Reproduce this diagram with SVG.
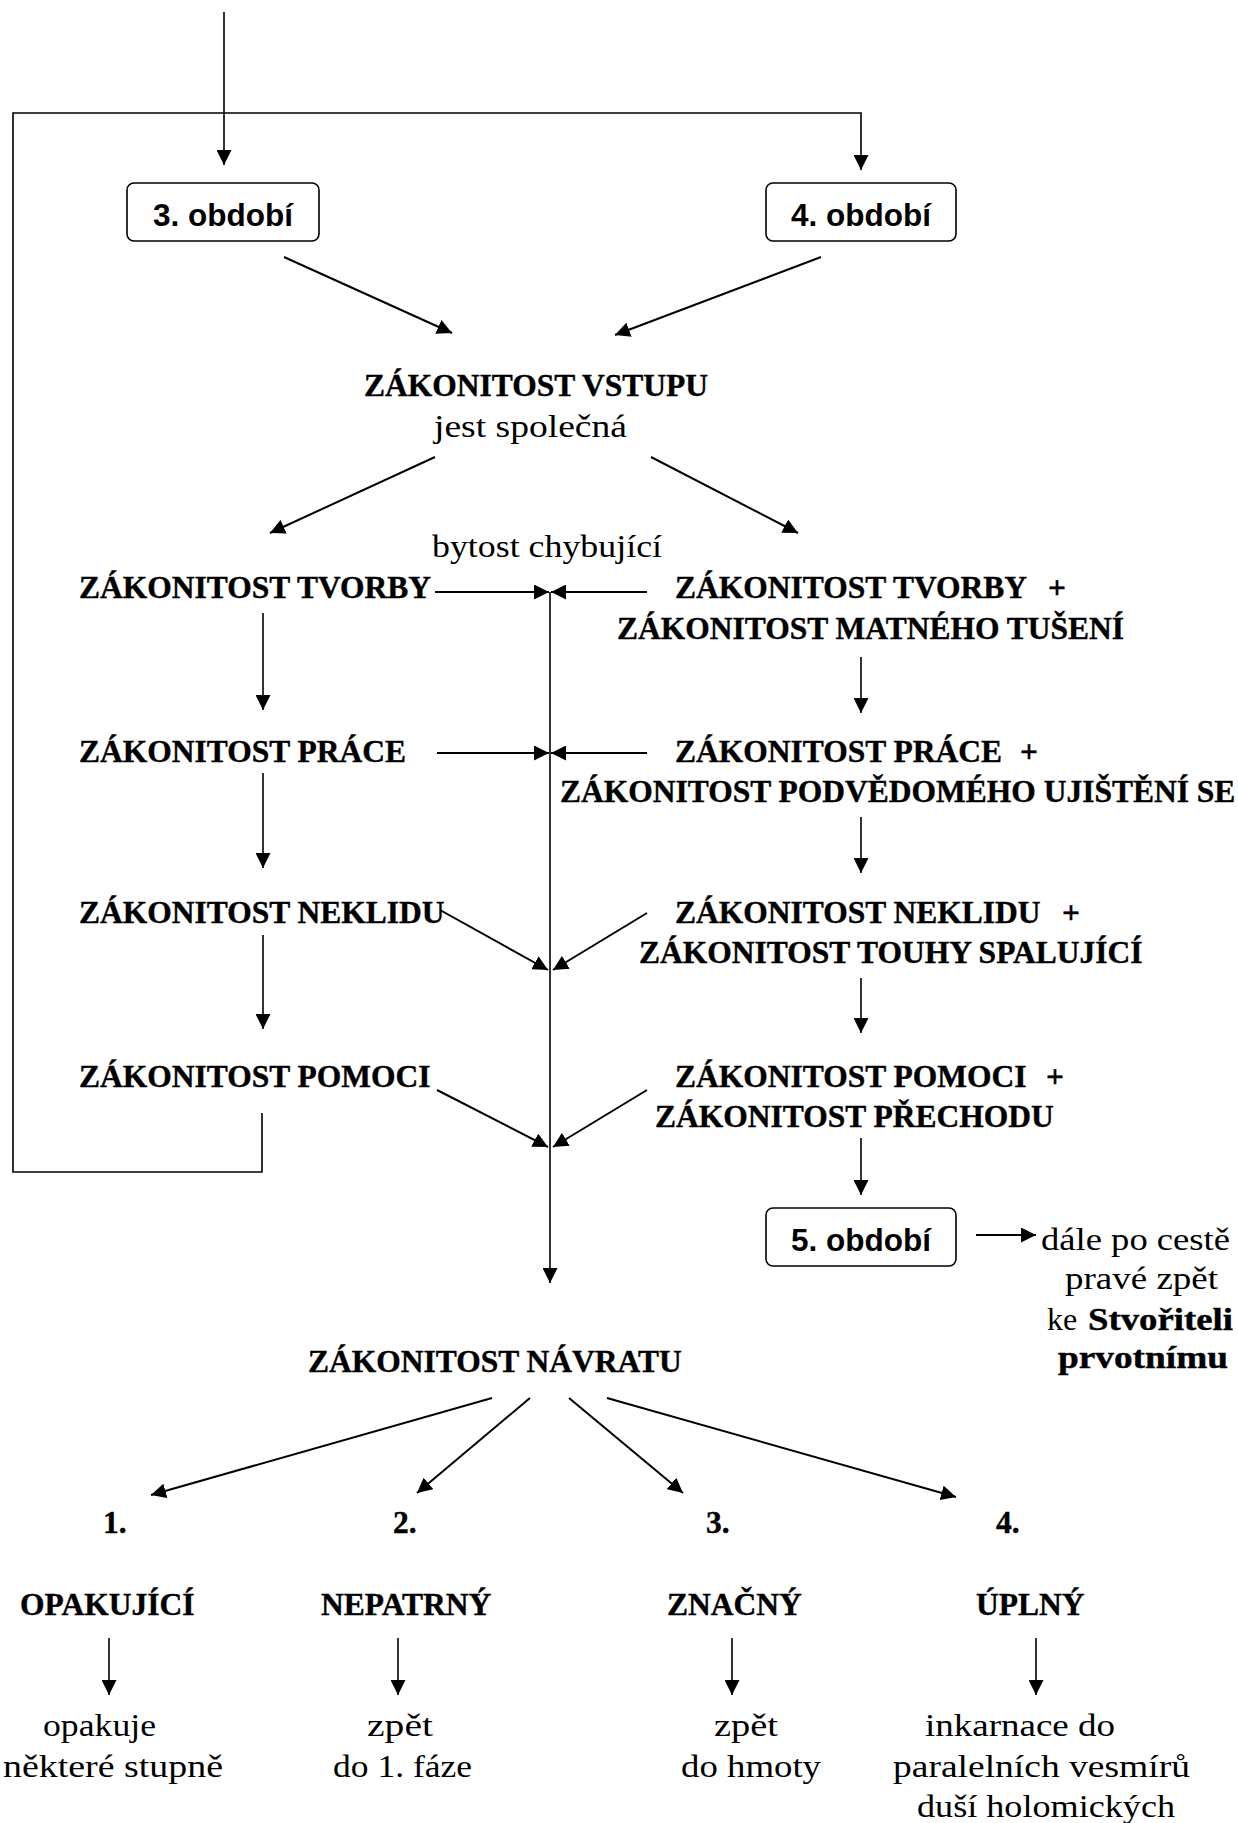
<svg xmlns="http://www.w3.org/2000/svg" width="1238" height="1823" viewBox="0 0 1238 1823">
<defs>
<marker id="ah" markerUnits="userSpaceOnUse" markerWidth="15" markerHeight="15" viewBox="0 0 15 15" refX="15" refY="7.5" orient="auto"><path d="M0,0 L15,7.5 L0,15 z" fill="#000"/></marker>
<style>
.b{font-family:"Liberation Serif","Times New Roman",serif;font-weight:bold;font-size:31.5px;fill:#000;stroke:#000;stroke-width:0.4}
.r{font-family:"Liberation Serif","Times New Roman",serif;font-size:32px;fill:#000}
.box{fill:#fff;stroke:#000;stroke-width:1.6}
.bt{font-family:"Liberation Sans",Arial,sans-serif;font-weight:bold;font-size:31.5px;text-anchor:middle;fill:#000}
.c{stroke:#000;stroke-width:1.6;fill:none}
.a{stroke:#000;stroke-width:1.6;fill:none;marker-end:url(#ah)}
.d{stroke:#000;stroke-width:2;fill:none;marker-end:url(#ah)}
</style>
</defs>
<rect width="1238" height="1823" fill="#fff"/>
<g id="connectors">
<line class="a" x1="224" y1="12" x2="224" y2="165"/>
<path class="a" d="M262,1113 V1172 H13 V113 H861 V170"/>
<line class="d" x1="284" y1="257" x2="452" y2="333"/>
<line class="d" x1="821" y1="257" x2="615" y2="335"/>
<line class="d" x1="435" y1="457" x2="270" y2="533"/>
<line class="d" x1="651" y1="457" x2="798" y2="533"/>
<line class="d" x1="435" y1="592" x2="549" y2="592"/>
<line class="d" x1="647" y1="592" x2="551" y2="592"/>
<line class="d" x1="437" y1="753" x2="549" y2="753"/>
<line class="d" x1="647" y1="753" x2="551" y2="753"/>
<line class="d" x1="440" y1="910" x2="548" y2="970"/>
<line class="d" x1="647" y1="913" x2="553" y2="970"/>
<line class="d" x1="437" y1="1090" x2="548" y2="1147"/>
<line class="d" x1="647" y1="1090" x2="553" y2="1147"/>
<line class="a" x1="550" y1="592" x2="550" y2="1283"/>
<line class="a" x1="263" y1="613" x2="263" y2="710"/>
<line class="a" x1="263" y1="773" x2="263" y2="868"/>
<line class="a" x1="263" y1="935" x2="263" y2="1029"/>
<line class="a" x1="861" y1="657" x2="861" y2="713"/>
<line class="a" x1="861" y1="817" x2="861" y2="873"/>
<line class="a" x1="861" y1="978" x2="861" y2="1033"/>
<line class="a" x1="861" y1="1138" x2="861" y2="1195"/>
<line class="d" x1="976" y1="1235" x2="1036" y2="1235"/>
<line class="d" x1="492" y1="1398" x2="151" y2="1495"/>
<line class="d" x1="530" y1="1398" x2="417" y2="1493"/>
<line class="d" x1="569" y1="1398" x2="683" y2="1493"/>
<line class="d" x1="607" y1="1398" x2="956" y2="1497"/>
<line class="a" x1="109" y1="1638" x2="109" y2="1695"/>
<line class="a" x1="398" y1="1638" x2="398" y2="1695"/>
<line class="a" x1="732" y1="1638" x2="732" y2="1695"/>
<line class="a" x1="1036" y1="1638" x2="1036" y2="1695"/>
</g>
<g id="obdobi3"><rect class="box" x="127" y="183" width="192" height="58" rx="7"/><text class="bt" x="223" y="226">3. období</text></g>
<g id="obdobi4"><rect class="box" x="766" y="183" width="190" height="58" rx="7"/><text class="bt" x="861" y="226">4. období</text></g>
<g id="vstup"><text class="b" x="364" y="396">ZÁKONITOST VSTUPU</text><text class="r" x="434" y="437" textLength="193" lengthAdjust="spacingAndGlyphs">jest společná</text></g>
<g id="bytost"><text class="r" x="432" y="557" textLength="230" lengthAdjust="spacingAndGlyphs">bytost chybující</text></g>
<g id="tvorba-l"><text class="b" x="79" y="598">ZÁKONITOST TVORBY</text></g>
<g id="prace-l"><text class="b" x="79" y="762">ZÁKONITOST PRÁCE</text></g>
<g id="neklid-l"><text class="b" x="79" y="923">ZÁKONITOST NEKLIDU</text></g>
<g id="pomoc-l"><text class="b" x="79" y="1087">ZÁKONITOST POMOCI</text></g>
<g id="tvorba-r"><text class="b" y="598"><tspan x="675">ZÁKONITOST TVORBY</tspan><tspan x="1040"> +</tspan></text><text class="b" x="617" y="639">ZÁKONITOST MATNÉHO TUŠENÍ</text></g>
<g id="prace-r"><text class="b" y="762"><tspan x="675">ZÁKONITOST PRÁCE</tspan><tspan x="1012"> +</tspan></text><text class="b" x="560" y="802">ZÁKONITOST PODVĚDOMÉHO UJIŠTĚNÍ SE</text></g>
<g id="neklid-r"><text class="b" y="923"><tspan x="675">ZÁKONITOST NEKLIDU</tspan><tspan x="1054"> +</tspan></text><text class="b" x="639" y="963">ZÁKONITOST TOUHY SPALUJÍCÍ</text></g>
<g id="pomoc-r"><text class="b" y="1087"><tspan x="675">ZÁKONITOST POMOCI</tspan><tspan x="1038"> +</tspan></text><text class="b" x="655" y="1127">ZÁKONITOST PŘECHODU</text></g>
<g id="obdobi5"><rect class="box" x="766" y="1208" width="190" height="58" rx="7"/><text class="bt" x="861" y="1251">5. období</text></g>
<g id="dale"><text class="r" x="1041" y="1250" textLength="189" lengthAdjust="spacingAndGlyphs">dále po cestě</text><text class="r" x="1065" y="1289" textLength="153" lengthAdjust="spacingAndGlyphs">pravé zpět</text><text class="r" y="1330"><tspan x="1047">ke </tspan><tspan x="1088" font-weight="bold" font-size="31.5" stroke="#000" stroke-width="0.4" textLength="145" lengthAdjust="spacingAndGlyphs">Stvořiteli</tspan></text><text class="b" x="1058" y="1368" textLength="170" lengthAdjust="spacingAndGlyphs">prvotnímu</text></g>
<g id="navrat"><text class="b" x="308" y="1372">ZÁKONITOST NÁVRATU</text></g>
<g id="n1"><text class="b" x="103" y="1533">1.</text><text class="b" x="20" y="1615">OPAKUJÍCÍ</text><text class="r" x="43" y="1736" textLength="113" lengthAdjust="spacingAndGlyphs">opakuje</text><text class="r" x="3" y="1777" textLength="220" lengthAdjust="spacingAndGlyphs">některé stupně</text></g>
<g id="n2"><text class="b" x="393" y="1533">2.</text><text class="b" x="321" y="1615">NEPATRNÝ</text><text class="r" x="367" y="1736" textLength="66" lengthAdjust="spacingAndGlyphs">zpět</text><text class="r" x="333" y="1777" textLength="139" lengthAdjust="spacingAndGlyphs">do 1. fáze</text></g>
<g id="n3"><text class="b" x="706" y="1533">3.</text><text class="b" x="667" y="1615">ZNAČNÝ</text><text class="r" x="714" y="1736" textLength="64" lengthAdjust="spacingAndGlyphs">zpět</text><text class="r" x="681" y="1777" textLength="140" lengthAdjust="spacingAndGlyphs">do hmoty</text></g>
<g id="n4"><text class="b" x="996" y="1533">4.</text><text class="b" x="976" y="1615">ÚPLNÝ</text><text class="r" x="925" y="1736" textLength="190" lengthAdjust="spacingAndGlyphs">inkarnace do</text><text class="r" x="893" y="1777" textLength="297" lengthAdjust="spacingAndGlyphs">paralelních vesmírů</text><text class="r" x="917" y="1817" textLength="258" lengthAdjust="spacingAndGlyphs">duší holomických</text></g>
</svg>
